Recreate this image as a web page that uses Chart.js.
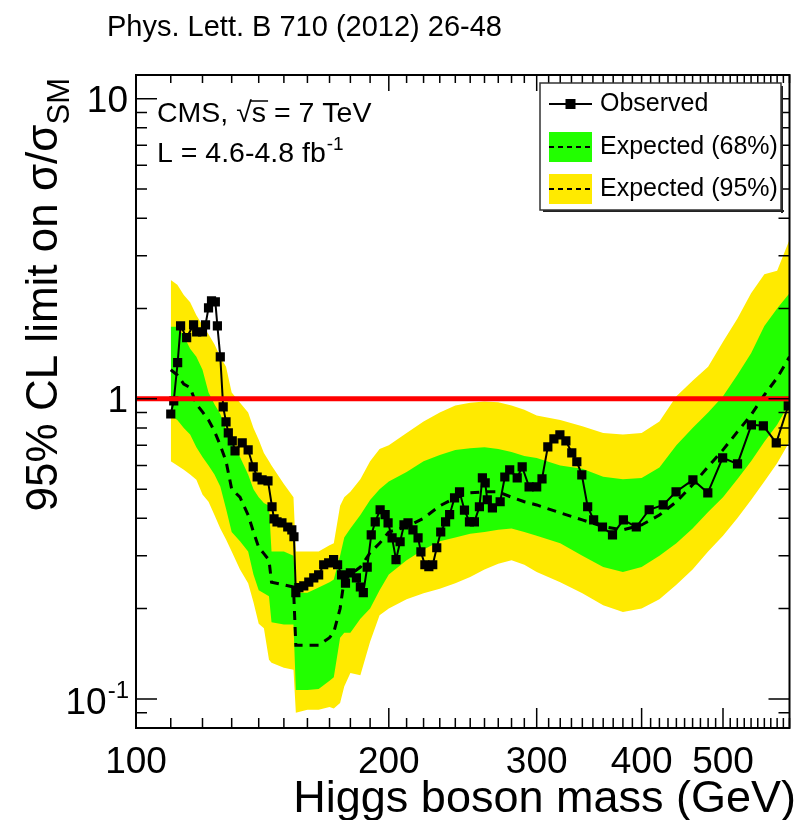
<!DOCTYPE html>
<html>
<head>
<meta charset="utf-8">
<title>CMS combined Higgs limit</title>
<script src="https://cdn.jsdelivr.net/npm/chart.js@4.4.1/dist/chart.umd.min.js"></script>
<style>
  html, body { margin: 0; padding: 0; background: #fff; }
  canvas { display: block; }
</style>
</head>
<body>
<canvas id="limitChart" width="796" height="820"></canvas>
<script>
// ── Data ────────────────────────────────────────────────────────────────────

const obsMass = [
  110.0, 110.9, 112.1, 113.0, 114.9, 117.1, 118.1, 120.0, 121.0, 122.0,
  123.0, 124.3, 125.0, 126.0, 127.0, 128.0, 128.8, 130.2, 131.2, 133.8,
  136.0, 137.9, 139.4, 141.3, 143.6, 145.2, 146.0, 147.2, 149.2, 151.6,
  153.3, 154.2, 155.0, 156.3, 158.4, 160.6, 162.8, 165.0, 167.3, 169.6,
  171.9, 173.8, 175.7, 177.6, 180.0, 183.0, 185.0, 186.5, 188.5, 190.6,
  192.7, 195.3, 198.0, 199.6, 201.8, 204.0, 206.3, 208.5, 210.8, 213.7,
  216.7, 218.4, 220.8, 223.2, 225.6, 228.1, 230.6, 233.7, 236.3, 239.5,
  242.8, 246.1, 249.5, 252.9, 256.4, 258.5, 260.5, 262.0, 265.7, 271.4,
  274.9, 278.6, 284.4, 288.3, 293.8, 300.0, 304.4, 309.3, 314.5, 319.7,
  325.0, 330.3, 334.9, 339.5, 345.0, 350.7, 359.3, 369.3, 380.5, 394.2,
  408.4, 424.4, 439.6, 460.4, 479.6, 499.5, 520.3, 540.5, 558.5, 578.6,
  597.9
];
const obsLimit = [
  0.89, 0.985, 1.32, 1.75, 1.60, 1.765, 1.67, 1.67, 1.765, 2.01,
  2.12, 2.105, 1.75, 1.38, 0.94, 0.838, 0.77, 0.724, 0.671, 0.713,
  0.676, 0.593, 0.549, 0.537, 0.533, 0.437, 0.398, 0.389, 0.386, 0.374,
  0.366, 0.347, 0.226, 0.235, 0.238, 0.245, 0.253, 0.259, 0.280, 0.284,
  0.291, 0.280, 0.259, 0.243, 0.263, 0.253, 0.236, 0.226, 0.275, 0.352,
  0.389, 0.427, 0.411, 0.386, 0.344, 0.291, 0.334, 0.380, 0.386, 0.366,
  0.344, 0.309, 0.280, 0.276, 0.280, 0.319, 0.360, 0.389, 0.411, 0.468,
  0.490, 0.426, 0.389, 0.389, 0.437, 0.545, 0.525, 0.461, 0.433, 0.454,
  0.549, 0.580, 0.545, 0.593, 0.509, 0.509, 0.541, 0.692, 0.736, 0.758,
  0.724, 0.661, 0.617, 0.558, 0.437, 0.395, 0.374, 0.352, 0.395, 0.374,
  0.427, 0.443, 0.490, 0.537, 0.486, 0.636, 0.607, 0.819, 0.813, 0.713,
  0.948
];

const expMass = [
  110, 112, 114, 116, 118, 120, 122, 124, 126, 128,
  130, 133, 136, 138, 140, 142, 144, 145, 150, 154,
  155, 160, 165, 170, 172, 175, 177, 180, 185, 190,
  195, 200, 210, 220, 230, 240, 250, 260, 270, 280,
  290, 300, 320, 340, 360, 380, 400, 420, 440, 460,
  480, 500, 520, 540, 560, 580, 600
];
const expMedian = [
  1.25, 1.20, 1.12, 1.09, 0.96, 0.905, 0.85, 0.78, 0.70, 0.62,
  0.50, 0.47, 0.41, 0.36, 0.32, 0.305, 0.29, 0.245, 0.24, 0.236,
  0.151, 0.151, 0.151, 0.16, 0.167, 0.20, 0.25, 0.26, 0.275, 0.307,
  0.33, 0.36, 0.375, 0.40, 0.44, 0.468, 0.486, 0.49, 0.49, 0.47,
  0.454, 0.443, 0.417, 0.395, 0.375, 0.366, 0.38, 0.41, 0.454, 0.517,
  0.594, 0.676, 0.776, 0.884, 1.03, 1.175, 1.38
];
const exp68Lo = [
  0.88, 0.85, 0.80, 0.76, 0.69, 0.64, 0.60, 0.56, 0.51, 0.43,
  0.36, 0.335, 0.31, 0.26, 0.23, 0.225, 0.22, 0.18, 0.177, 0.177,
  0.107, 0.107, 0.108, 0.115, 0.118, 0.16, 0.166, 0.166, 0.185, 0.20,
  0.23, 0.26, 0.29, 0.315, 0.335, 0.345, 0.355, 0.36, 0.366, 0.37,
  0.36, 0.35, 0.33, 0.30, 0.275, 0.265, 0.275, 0.30, 0.33, 0.37,
  0.42, 0.47, 0.54, 0.62, 0.72, 0.82, 0.97
];
const exp68Hi = [
  1.74, 1.74, 1.62, 1.47, 1.38, 1.25, 1.05, 0.96, 0.89, 0.79,
  0.73, 0.64, 0.56, 0.50, 0.47, 0.45, 0.44, 0.31, 0.31, 0.30,
  0.226, 0.226, 0.235, 0.245, 0.25, 0.30, 0.345, 0.37, 0.41, 0.46,
  0.50, 0.53, 0.57, 0.62, 0.65, 0.675, 0.685, 0.69, 0.68, 0.665,
  0.645, 0.635, 0.60, 0.585, 0.55, 0.54, 0.545, 0.59, 0.70, 0.80,
  0.90, 1.02, 1.20, 1.42, 1.75, 2.00, 2.25
];
const exp95Lo = [
  0.62, 0.60, 0.58, 0.56, 0.537, 0.48, 0.454, 0.41, 0.37, 0.34,
  0.31, 0.27, 0.243, 0.21, 0.178, 0.172, 0.135, 0.132, 0.127, 0.125,
  0.09, 0.092, 0.092, 0.094, 0.093, 0.097, 0.11, 0.122, 0.12, 0.155,
  0.19, 0.20, 0.215, 0.225, 0.233, 0.243, 0.255, 0.27, 0.282, 0.29,
  0.28, 0.265, 0.245, 0.225, 0.205, 0.195, 0.20, 0.215, 0.24, 0.27,
  0.31, 0.35, 0.40, 0.46, 0.53, 0.61, 0.72
];
const exp95Hi = [
  2.49, 2.40, 2.22, 2.10, 1.90, 1.76, 1.64, 1.52, 1.38, 1.28,
  1.05, 0.97, 0.90, 0.80, 0.73, 0.66, 0.62, 0.60, 0.52, 0.47,
  0.31, 0.31, 0.31, 0.325, 0.33, 0.44, 0.47, 0.49, 0.54, 0.62,
  0.68, 0.70, 0.77, 0.84, 0.90, 0.95, 0.97, 0.98, 0.975, 0.95,
  0.92, 0.88, 0.85, 0.81, 0.77, 0.76, 0.77, 0.84, 1.02, 1.15,
  1.28, 1.55, 1.85, 2.25, 2.60, 2.67, 3.39
];

const smLine = [1, 1];
const smLineMass = [100, 600];

const xLabelValues = [100, 200, 300, 400, 500];
const yLabelValues = [0.1, 1, 10];
const xRange = [100, 600];
const yRange = [0.08, 12];

const FONT = '"Liberation Sans", Arial, Helvetica, sans-serif';
const GREEN = '#22ff00';
const YELLOW = '#ffea00';

// ── Helpers ─────────────────────────────────────────────────────────────────

const toPoints = (xs, ys) => xs.map((x, i) => ({ x, y: ys[i] }));

function font(size) {
  return size + 'px ' + FONT;
}

// tick positions along the axes (ROOT style: every 10 GeV, 1-9 per decade)
function xTickList() {
  const out = [];
  for (let m = xRange[0]; m <= xRange[1]; m += 10) out.push(m);
  return out;
}
function yTickList() {
  const out = [];
  [0.01, 0.1, 1].forEach(dec => {
    for (let k = 1; k <= 9; k++) {
      const v = +(k * dec).toPrecision(3);
      if (v >= yRange[0] && v <= 10) out.push(v);
    }
  });
  out.push(10);
  return out;
}

// ── Frame, inward ticks, texts and legend (ROOT look) ───────────────────────

const rootDecor = {
  id: 'rootDecor',
  afterDraw(chart) {
    const { ctx, chartArea: a, scales: { x, y } } = chart;
    ctx.save();

    // ticks
    ctx.strokeStyle = '#000';
    ctx.lineWidth = 1.5;
    ctx.beginPath();
    xTickList().forEach(v => {
      const px = x.getPixelForValue(v);
      const major = xLabelValues.includes(v);
      const len = major ? 20 : 10;
      ctx.moveTo(px, a.bottom); ctx.lineTo(px, a.bottom - len);
      ctx.moveTo(px, a.top); ctx.lineTo(px, a.top + (major ? 16 : 8));
    });
    yTickList().forEach(v => {
      const py = y.getPixelForValue(v);
      const len = yLabelValues.includes(v) ? 21 : 11;
      ctx.moveTo(a.left, py); ctx.lineTo(a.left + len, py);
      ctx.moveTo(a.right, py); ctx.lineTo(a.right - len, py);
    });
    ctx.stroke();

    // frame
    ctx.lineWidth = 2;
    ctx.strokeRect(a.left, a.top, a.right - a.left, a.bottom - a.top);

    ctx.fillStyle = '#000';
    ctx.textBaseline = 'alphabetic';
    ctx.textAlign = 'left';

    // header
    ctx.font = font(29);
    ctx.fillText('Phys. Lett. B 710 (2012) 26-48', 107, 36);

    // 10^-1 label
    const p01 = y.getPixelForValue(0.1);
    ctx.font = font(24);
    const supW = ctx.measureText('-1').width;
    ctx.font = font(37);
    const tenW = ctx.measureText('10').width;
    const lx = 128 - supW - tenW;
    ctx.fillText('10', lx, p01 + 15);
    ctx.font = font(24);
    ctx.fillText('-1', lx + tenW + 1, p01 - 1);

    // x axis title
    ctx.font = font(45);
    ctx.textAlign = 'right';
    ctx.fillText('Higgs boson mass (GeV)', 796, 812);
    ctx.textAlign = 'left';

    // y axis title (rotated, right aligned at the top)
    ctx.save();
    ctx.translate(57, 78);
    ctx.rotate(-Math.PI / 2);
    ctx.font = font(44);
    const mainTxt = '95% CL limit on \u03c3/\u03c3';
    const mainW = ctx.measureText(mainTxt).width;
    ctx.font = font(31);
    const subW = ctx.measureText('SM').width;
    ctx.font = font(44);
    ctx.fillText(mainTxt, -(mainW + subW), 0);
    ctx.font = font(31);
    ctx.fillText('SM', -subW, 12);
    ctx.restore();

    // CMS label
    ctx.font = font(28.5);
    let cx = 157;
    ctx.fillText('CMS, ', cx, 122);
    cx += ctx.measureText('CMS, ').width;
    ctx.fillText('\u221a', cx, 122);
    cx += ctx.measureText('\u221a').width;
    const sW = ctx.measureText('s').width;
    ctx.fillText('s', cx, 122);
    ctx.lineWidth = 1.5;
    ctx.beginPath();
    ctx.moveTo(cx - 1, 101); ctx.lineTo(cx + sW + 2, 101);
    ctx.stroke();
    cx += sW;
    ctx.fillText(' = 7 TeV', cx, 122);

    ctx.fillText('L = 4.6-4.8 fb', 157, 162);
    const lw = ctx.measureText('L = 4.6-4.8 fb').width;
    ctx.font = font(19);
    ctx.fillText('-1', 157 + lw + 1, 150);

    // legend
    const lg = { l: 540, t: 83, r: 781, b: 210 };
    ctx.fillStyle = '#222';
    ctx.fillRect(lg.l + 3, lg.b, lg.r - lg.l, 2);
    ctx.fillRect(lg.r, lg.t + 3, 2, lg.b - lg.t);
    ctx.fillStyle = '#fff';
    ctx.fillRect(lg.l, lg.t, lg.r - lg.l, lg.b - lg.t);
    ctx.strokeStyle = '#333';
    ctx.lineWidth = 1.5;
    ctx.strokeRect(lg.l, lg.t, lg.r - lg.l, lg.b - lg.t);

    const sx0 = 549, sx1 = 592;
    // observed
    ctx.strokeStyle = '#000';
    ctx.lineWidth = 2;
    ctx.beginPath();
    ctx.moveTo(sx0, 104); ctx.lineTo(sx1, 104);
    ctx.stroke();
    ctx.fillStyle = '#000';
    ctx.fillRect((sx0 + sx1) / 2 - 5, 99, 10, 10);
    // bands
    [[GREEN, 147], [YELLOW, 189]].forEach(([c, cy]) => {
      ctx.fillStyle = c;
      ctx.fillRect(sx0, cy - 15, sx1 - sx0, 30);
      ctx.setLineDash([5, 4]);
      ctx.beginPath();
      ctx.moveTo(sx0, cy); ctx.lineTo(sx1, cy);
      ctx.stroke();
      ctx.setLineDash([]);
    });
    ctx.fillStyle = '#000';
    ctx.font = font(25);
    ctx.textBaseline = 'middle';
    ctx.fillText('Observed', 600, 104);
    ctx.fillText('Expected (68%)', 600, 147);
    ctx.fillText('Expected (95%)', 600, 189);

    ctx.restore();
  }
};

// ── Chart ───────────────────────────────────────────────────────────────────

const ctx = document.getElementById('limitChart').getContext('2d');

new Chart(ctx, {
  type: 'line',
  data: {
    datasets: [
      {
        label: 'SM',
        data: toPoints(smLineMass, smLine),
        borderColor: '#ff0000',
        borderWidth: 5,
        pointRadius: 0,
        fill: false
      },
      {
        label: 'Observed',
        data: toPoints(obsMass, obsLimit),
        borderColor: '#000',
        borderWidth: 2,
        pointStyle: 'rect',
        pointRadius: 6.5,
        pointBackgroundColor: '#000',
        pointBorderWidth: 0,
        fill: false
      },
      {
        label: 'Expected',
        data: toPoints(expMass, expMedian),
        borderColor: '#000',
        borderWidth: 3,
        borderDash: [9, 7],
        pointRadius: 0,
        fill: false
      },
      {
        label: 'Expected (68%) hi',
        data: toPoints(expMass, exp68Hi),
        borderWidth: 0,
        pointRadius: 0,
        backgroundColor: GREEN,
        fill: '+1'
      },
      {
        label: 'Expected (68%) lo',
        data: toPoints(expMass, exp68Lo),
        borderWidth: 0,
        pointRadius: 0,
        fill: false
      },
      {
        label: 'Expected (95%) hi',
        data: toPoints(expMass, exp95Hi),
        borderWidth: 0,
        pointRadius: 0,
        backgroundColor: YELLOW,
        fill: '+1'
      },
      {
        label: 'Expected (95%) lo',
        data: toPoints(expMass, exp95Lo),
        borderWidth: 0,
        pointRadius: 0,
        fill: false
      }
    ]
  },
  options: {
    responsive: false,
    devicePixelRatio: 1,
    animation: false,
    layout: { padding: { top: 75, right: 2, left: 0, bottom: 0 } },
    plugins: {
      legend: { display: false },
      tooltip: { enabled: false }
    },
    elements: { line: { tension: 0 } },
    scales: {
      x: {
        type: 'logarithmic',
        min: xRange[0],
        max: xRange[1],
        grid: { display: false, drawTicks: false },
        border: { display: false },
        afterBuildTicks: scale => { scale.ticks = xLabelValues.map(v => ({ value: v })); },
        afterFit: scale => { scale.height = 92; },
        ticks: {
          autoSkip: false,
          maxRotation: 0,
          padding: 13,
          color: '#000',
          font: { family: FONT, size: 37 },
          callback: v => String(v)
        }
      },
      y: {
        type: 'logarithmic',
        min: yRange[0],
        max: yRange[1],
        grid: { display: false, drawTicks: false },
        border: { display: false },
        afterBuildTicks: scale => { scale.ticks = yLabelValues.map(v => ({ value: v })); },
        afterFit: scale => { scale.width = 136; },
        ticks: {
          autoSkip: false,
          padding: 8,
          labelOffset: 3,
          color: '#000',
          font: { family: FONT, size: 37 },
          callback: v => (v === 10 ? '10' : v === 1 ? '1' : '')
        }
      }
    }
  },
  plugins: [rootDecor]
});
</script>
</body>
</html>
